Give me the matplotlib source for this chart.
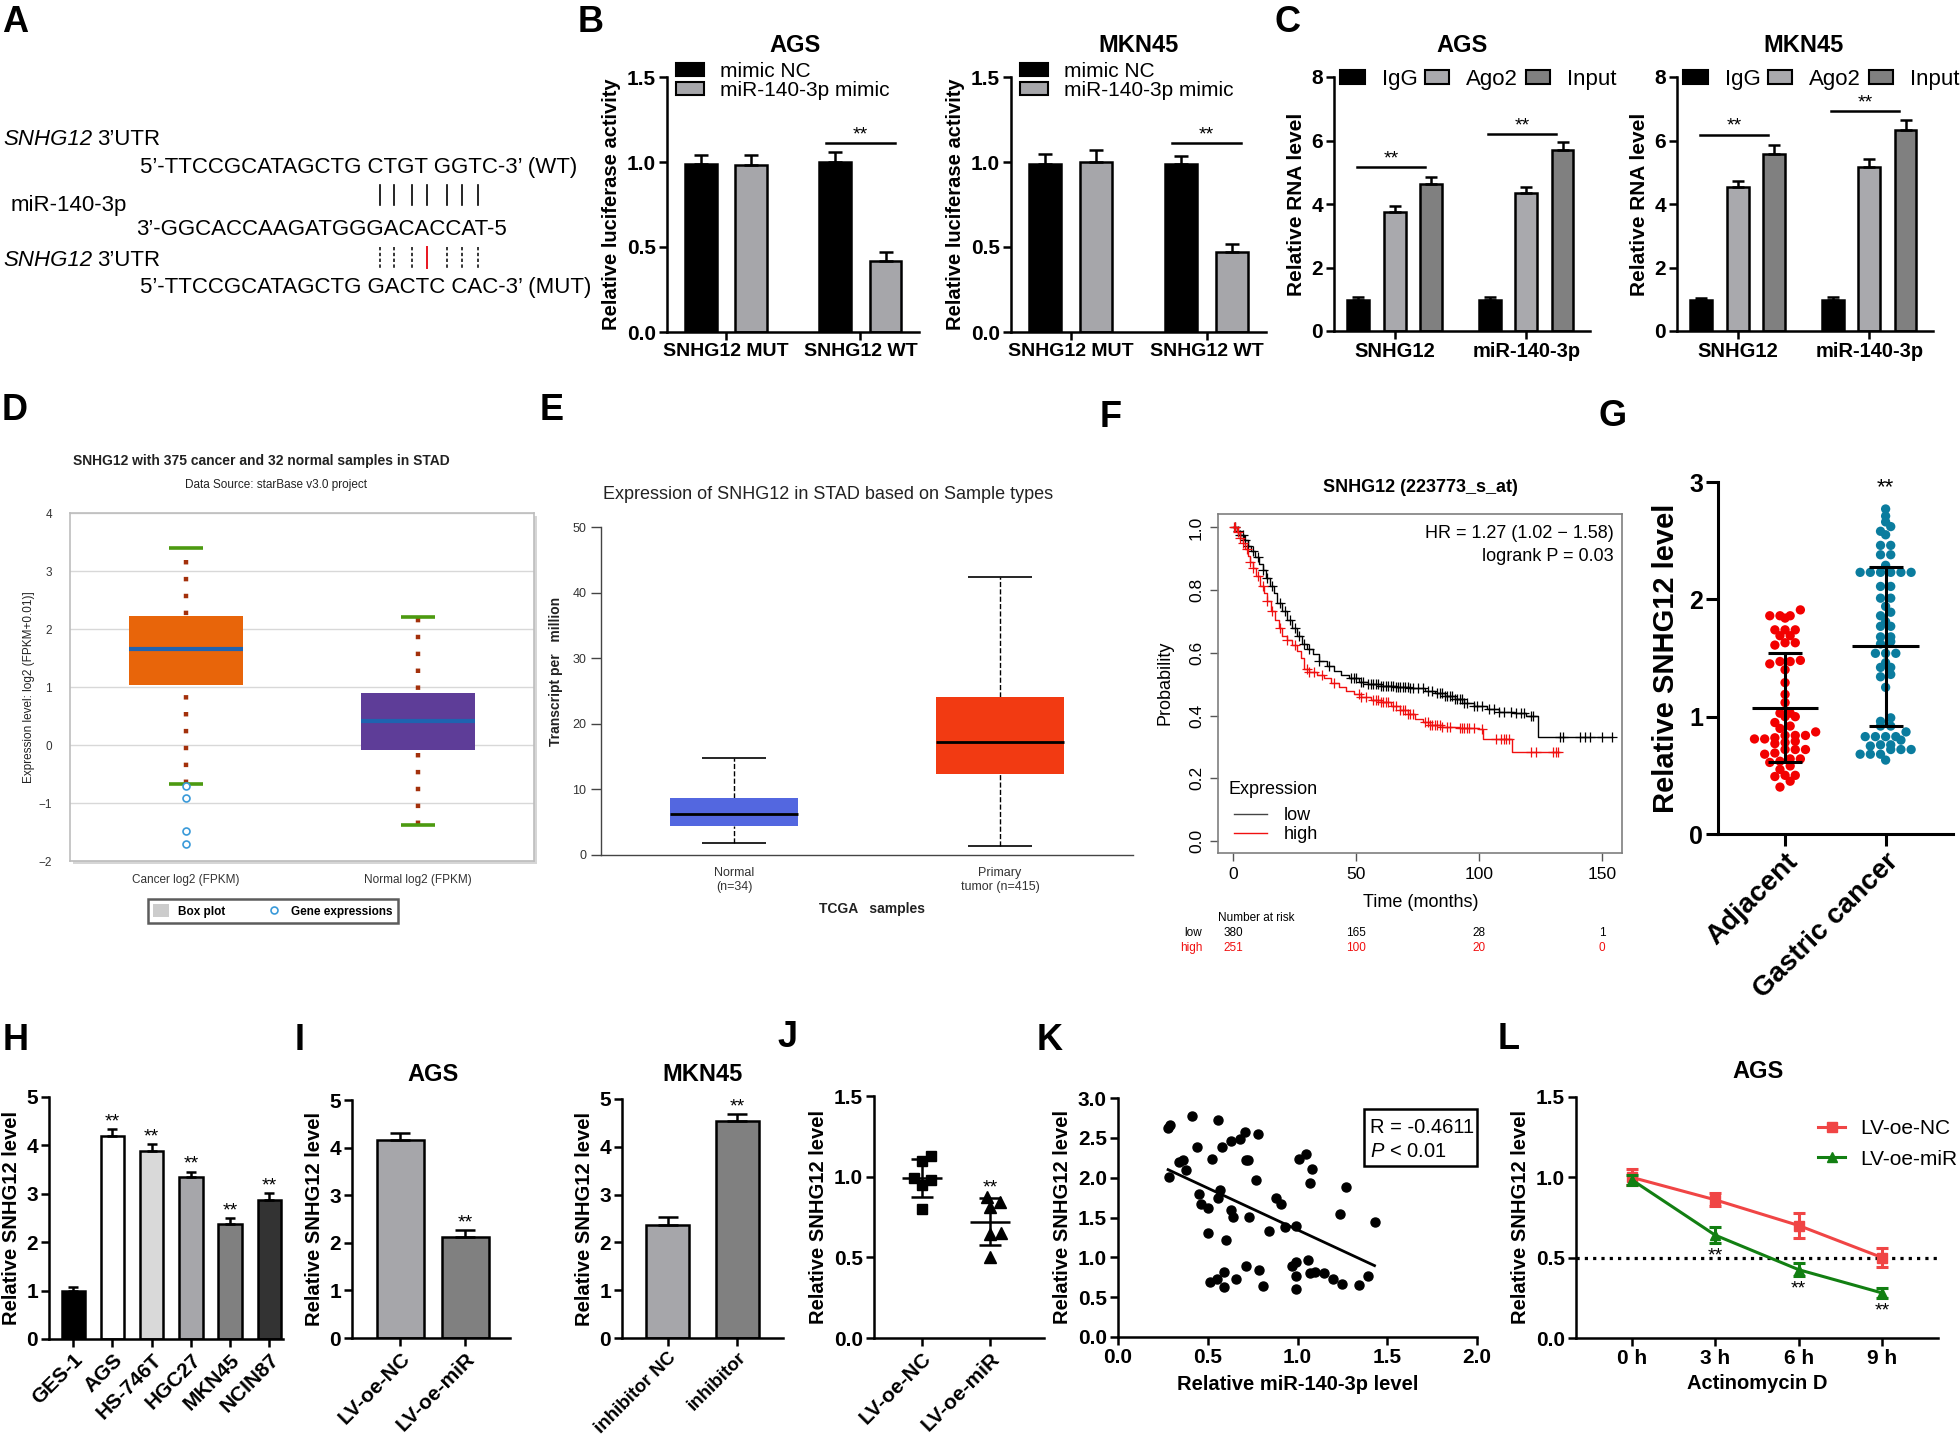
import numpy as np
import matplotlib
matplotlib.use("Agg")
import matplotlib.pyplot as plt
from matplotlib.lines import Line2D
from matplotlib.patches import Patch, Rectangle

W, H = 1960, 1438
plt.rcParams["font.family"] = ["Liberation Sans", "DejaVu Sans"]
plt.rcParams["mathtext.fontset"] = "custom"
plt.rcParams["mathtext.rm"] = "Liberation Sans"
plt.rcParams["mathtext.it"] = "Liberation Sans:italic"
plt.rcParams["axes.linewidth"] = 1.8

# ── Data ──────────────────────────────────────────────────────
# A: binding sites
seq_wt = "5’-TTCCGCATAGCTG CTGT GGTC-3’ (WT)"
seq_mir = "3’-GGCACCAAGATGGGACACCAT-5"
seq_mut = "5’-TTCCGCATAGCTG GACTC CAC-3’ (MUT)"

# B: luciferase
luc_groups = ["SNHG12 MUT", "SNHG12 WT"]
luc_series = ["mimic NC", "miR-140-3p mimic"]
luc_ags_nc = [0.99, 1.00]
luc_ags_nc_err = [0.05, 0.06]
luc_ags_mimic = [0.98, 0.42]
luc_ags_mimic_err = [0.06, 0.05]
luc_mkn_nc = [0.99, 0.99]
luc_mkn_nc_err = [0.055, 0.045]
luc_mkn_mimic = [1.00, 0.47]
luc_mkn_mimic_err = [0.07, 0.05]
luc_sig = 1.11

# C: RIP
rip_groups = ["SNHG12", "miR-140-3p"]
rip_series = ["IgG", "Ago2", "Input"]
rip_ags = [[0.98, 0.98], [3.76, 4.34], [4.63, 5.69]]
rip_ags_err = [[0.10, 0.10], [0.19, 0.21], [0.21, 0.25]]
rip_mkn = [[0.98, 0.98], [4.53, 5.18], [5.58, 6.34]]
rip_mkn_err = [[0.07, 0.10], [0.20, 0.25], [0.27, 0.29]]
rip_ags_sig = [5.15, 6.20]
rip_mkn_sig = [6.18, 6.92]

# D: starBase box plot
sb_groups = ["Cancer log2 (FPKM)", "Normal log2 (FPKM)"]
sb_q1 = [1.04, -0.09]
sb_med = [1.65, 0.41]
sb_q3 = [2.22, 0.90]
sb_lo = [-0.68, -1.38]
sb_hi = [3.40, 2.20]
sb_outliers = [-0.71, -0.92, -1.49, -1.71]

# E: GEPIA box plot
gp_groups = ["Normal\n(n=34)", "Primary\ntumor (n=415)"]
gp_q1 = [4.36, 12.4]
gp_med = [6.3, 17.3]
gp_q3 = [8.7, 24.1]
gp_lo = [1.9, 1.4]
gp_hi = [14.8, 42.5]

# F: Kaplan-Meier
km_low_t = [0, 1.5, 3, 4.5, 6, 7.5, 9, 10.5, 12, 13.5, 15, 16.5, 18, 20, 22, 24, 26, 28, 30,
            32.5, 35, 38, 41, 44, 47, 51, 55, 60, 66, 72, 78, 82, 86, 90, 94, 98, 103, 108,
            114, 119, 124]
km_low_s = [1.0, 0.99, 0.975, 0.96, 0.94, 0.925, 0.905, 0.885, 0.865, 0.84, 0.815, 0.79, 0.76,
            0.735, 0.705, 0.68, 0.655, 0.63, 0.612, 0.595, 0.575, 0.558, 0.543, 0.53, 0.521,
            0.508, 0.50, 0.495, 0.49, 0.487, 0.478, 0.472, 0.462, 0.452, 0.44, 0.43, 0.422,
            0.413, 0.407, 0.398, 0.331]
km_low_end = 154
km_high_t = [0, 1.5, 3, 4, 5, 6, 7, 8, 9.5, 11, 12.5, 14, 15.5, 17, 18.5, 20, 22, 24, 26, 27.5,
             29, 31, 34, 37, 40, 43, 46, 49, 52, 56, 60, 64, 68, 71, 74, 77, 80, 85, 92, 100,
             101.5, 113.5]
km_high_s = [1.0, 0.985, 0.965, 0.95, 0.93, 0.91, 0.89, 0.87, 0.845, 0.815, 0.79, 0.765, 0.735,
             0.705, 0.68, 0.655, 0.64, 0.625, 0.605, 0.585, 0.548, 0.54, 0.53, 0.52, 0.505,
             0.492, 0.48, 0.468, 0.458, 0.45, 0.445, 0.432, 0.418, 0.405, 0.39, 0.38, 0.37,
             0.365, 0.36, 0.356, 0.324, 0.285]
km_high_end = 132.5
km_low_cens = [1, 2, 3, 4, 5, 6, 8, 10, 12, 14, 16, 19, 21, 23, 25, 27, 29, 31, 35, 39, 48, 49,
               50, 52, 53, 55, 56, 57, 58, 59, 60, 61, 62, 63, 64, 65, 66, 67, 68, 69, 70, 71,
               72, 73, 75, 77, 79, 81, 83, 84, 85, 86, 87, 88, 89, 90, 91, 92, 93, 94, 95, 98,
               99, 101, 104, 106, 108, 110, 113, 115, 117, 118, 121, 122, 133, 134, 141, 143,
               145, 150, 154]
km_high_cens = [0.5, 1, 2, 3, 4, 5.5, 7, 8, 10, 12, 14, 16, 19, 22, 25, 30, 31, 33, 36, 41, 51,
                52, 54, 57, 58, 59, 60, 61, 62, 63, 65, 66, 68, 69, 70, 71, 72, 73, 78, 79, 80,
                81, 82, 83, 84, 85, 87, 88, 92, 93, 94, 95, 96, 98, 101, 107, 109, 110, 111,
                112, 121, 123, 130, 131, 132]
risk_times = [0, 50, 100, 150]
risk_low = [380, 165, 28, 1]
risk_high = [251, 100, 20, 0]

# G: tissue scatter
tissue_groups = ["Adjacent", "Gastric cancer"]
adjacent = [1.91, 1.86, 1.86, 1.86, 1.84, 1.74, 1.74, 1.74, 1.69, 1.69, 1.63, 1.63, 1.61, 1.48,
            1.47, 1.47, 1.45, 1.40, 1.29, 1.19, 1.12, 1.03, 1.03, 1.00, 1.00, 0.95, 0.92, 0.90,
            0.87, 0.84, 0.84, 0.84, 0.82, 0.81, 0.81, 0.79, 0.78, 0.77, 0.72, 0.72, 0.72, 0.69,
            0.68, 0.64, 0.64, 0.62, 0.61, 0.58, 0.55, 0.50, 0.50, 0.49, 0.45, 0.40]
gastric = [2.77, 2.71, 2.66, 2.62, 2.58, 2.55, 2.46, 2.46, 2.38, 2.38, 2.29, 2.23, 2.23, 2.23,
           2.23, 2.23, 2.23, 2.11, 2.11, 2.01, 2.01, 1.94, 1.89, 1.86, 1.81, 1.77, 1.77, 1.68,
           1.68, 1.64, 1.62, 1.54, 1.54, 1.54, 1.46, 1.42, 1.42, 1.36, 1.34, 1.25, 0.99, 0.96,
           0.92, 0.92, 0.87, 0.83, 0.83, 0.83, 0.83, 0.80, 0.76, 0.76, 0.75, 0.72, 0.72, 0.72,
           0.68, 0.68, 0.68, 0.63]

# H: cell lines
cell_lines = ["GES-1", "AGS", "HS-746T", "HGC27", "MKN45", "NCIN87"]
cell_snhg12 = [0.99, 4.20, 3.88, 3.34, 2.37, 2.88]
cell_snhg12_err = [0.08, 0.14, 0.14, 0.12, 0.13, 0.13]
cell_colors = ["#000000", "#FFFFFF", "#D9D9D9", "#A6A6AA", "#808080", "#333333"]

# I: overexpression / inhibition
oe_groups = ["LV-oe-NC", "LV-oe-miR"]
oe_ags = [4.16, 2.13]
oe_ags_err = [0.15, 0.14]
inh_groups = ["inhibitor NC", "inhibitor"]
inh_mkn = [2.37, 4.53]
inh_mkn_err = [0.16, 0.16]

# J: in vivo
vivo_nc = [1.13, 1.10, 0.99, 0.98, 0.95, 0.80]
vivo_mir = [0.84, 0.815, 0.877, 0.65, 0.646, 0.50]

# K: correlation
mir_level = [0.279, 0.288, 0.283, 0.34, 0.363, 0.381, 0.413, 0.441, 0.45, 0.46, 0.499, 0.499,
             0.512, 0.526, 0.549, 0.558, 0.567, 0.558, 0.579, 0.59, 0.59, 0.60, 0.628, 0.638,
             0.628, 0.66, 0.679, 0.707, 0.713, 0.726, 0.711, 0.729, 0.77, 0.78, 0.787, 0.81,
             0.839, 0.88, 0.908, 0.93, 0.97, 0.99, 0.99, 0.99, 0.99, 1.01, 1.05, 1.06, 1.07,
             1.08, 1.07, 1.10, 1.15, 1.20, 1.237, 1.25, 1.269, 1.34, 1.39, 1.429]
snhg_level = [2.62, 2.66, 2.01, 2.20, 2.22, 2.09, 2.77, 2.39, 1.80, 1.67, 1.62, 1.31, 0.69, 2.23,
              0.73, 2.72, 1.85, 1.75, 2.38, 0.81, 0.63, 1.22, 1.59, 1.51, 2.46, 0.73, 2.48, 2.57,
              2.22, 2.22, 0.89, 1.51, 1.97, 2.55, 0.84, 0.64, 1.33, 1.75, 1.67, 1.38, 0.89, 0.94,
              1.39, 0.76, 0.60, 2.23, 2.30, 0.97, 1.93, 2.11, 0.80, 0.81, 0.80, 0.73, 1.54, 0.67,
              1.88, 0.65, 0.76, 1.44]

# L: actinomycin D
act_hours = [0, 3, 6, 9]
act_labels = ["0 h", "3 h", "6 h", "9 h"]
act_nc = [1.0, 0.86, 0.70, 0.50]
act_nc_err = [0.05, 0.04, 0.075, 0.06]
act_mir = [0.985, 0.64, 0.425, 0.28]
act_mir_err = [0.03, 0.05, 0.04, 0.03]

GRAY = "#A6A6AA"
DARK = "#808080"

fig = plt.figure(figsize=(W / 100, H / 100), dpi=100)


def add_ax(x0, y0, x1, y1):
    return fig.add_axes([x0 / W, 1 - y1 / H, (x1 - x0) / W, (y1 - y0) / H])


def ftext(x, y, s, **kw):
    kw.setdefault("va", "baseline")
    return fig.text(x / W, 1 - y / H, s, **kw)


def fline(xs, ys, **kw):
    fig.add_artist(Line2D([x / W for x in xs], [1 - y / H for y in ys],
                          transform=fig.transFigure, **kw))


def prism(ax, ylim, yticks, ylabel, xlim, fmt="{:g}", lsize=14.5, tsize=15, lpad=4, tlen=6):
    ax.spines[["top", "right"]].set_visible(False)
    ax.spines[["left", "bottom"]].set_linewidth(1.8)
    ax.tick_params(direction="out", length=tlen, width=1.8, labelsize=tsize, pad=2)
    ax.set_xlim(*xlim)
    ax.set_ylim(*ylim)
    ax.set_yticks(yticks)
    ax.set_yticklabels([fmt.format(v) for v in yticks], fontweight="bold")
    ax.set_ylabel(ylabel, fontsize=lsize, fontweight="bold", labelpad=lpad)


def stars(ax, x, y, dy=-1, va="bottom", size=14):
    ax.annotate("**", (x, y), xytext=(0, dy), textcoords="offset points",
                ha="center", va=va, fontsize=size)


def up_err(ax, x, y, e, cap):
    ax.errorbar(x, y, yerr=[np.zeros(len(y)), e], fmt="none", ecolor="black",
                elinewidth=1.8, capsize=cap, capthick=1.8, zorder=3)


def px_per_unit(ax):
    return ax.transData.transform((1, 0))[0] - ax.transData.transform((0, 0))[0]


def swarm(ax, xc, vals, d):
    pix = ax.transData.transform(np.column_stack([np.full(len(vals), xc), vals]))
    ys = pix[:, 1]
    placed, offs = [], np.zeros(len(vals))
    for i in np.argsort(ys):
        y = ys[i]
        cands = [0.0]
        for px, py in placed:
            dy = y - py
            if abs(dy) < d:
                dx = np.sqrt(d * d - dy * dy)
                cands += [px + dx, px - dx]
        for c in sorted(cands, key=abs):
            if all((c - px) ** 2 + (y - py) ** 2 >= d * d - 1e-6 for px, py in placed):
                offs[i] = c
                placed.append((c, y))
                break
    return xc + offs / px_per_unit(ax)


def rows(ax, xc, vals, d, bin_w):
    # GraphPad style: points in the same y bin share one row
    vals = np.asarray(vals)
    bins = np.round(vals / bin_w).astype(int)
    offs = np.zeros(len(vals))
    for b in np.unique(bins):
        idx = np.where(bins == b)[0]
        idx = idx[np.argsort(vals[idx])]
        n = len(idx)
        for slot, j in zip(np.arange(n) - (n - 1) / 2, range(n)):
            offs[idx[j]] = slot * d
    return xc + offs / px_per_unit(ax)


# ── Panel letters ─────────────────────────────────────────────
for lab, x, y in [("A", 2, 32), ("B", 578, 32), ("C", 1274, 32), ("D", 2, 420), ("E", 540, 420),
                  ("F", 1100, 427), ("G", 1598, 426), ("H", 3, 1050), ("I", 295, 1050),
                  ("J", 777, 1047), ("K", 1037, 1050), ("L", 1498, 1049)]:
    ftext(x, y, lab, fontsize=26, fontweight="bold")

# ── A ─────────────────────────────────────────────────────────
for yb in (145, 266):
    ftext(3, yb, "SNHG12", fontsize=16, style="italic")
    ftext(97, yb, "3’UTR", fontsize=16)
ftext(140, 173, seq_wt, fontsize=16)
ftext(11, 211, "miR-140-3p", fontsize=16)
ftext(136, 235, seq_mir, fontsize=16)
ftext(140, 293, seq_mut, fontsize=16)
pair_x = [380, 394, 412, 427, 447, 462, 478]
for i, x in enumerate(pair_x):
    fline([x, x], [185, 205], color="black", lw=1.2)
    if i == 3:
        fline([x, x], [247, 268], color="#E8141E", lw=1.4)
    else:
        fline([x, x], [247, 268], color="black", lw=1.1, ls=(0, (2.2, 1.6)))


# ── B ─────────────────────────────────────────────────────────
def luc_panel(box, nc, nc_err, mim, mim_err, title, tx):
    ax = add_ax(*box)
    prism(ax, (0, 1.5), [0, 0.5, 1.0, 1.5], "Relative luciferase activity",
          (-0.44, 1.436), fmt="{:.1f}")
    x = np.arange(len(luc_groups))
    off, w = 0.187, 0.236
    ax.bar(x - off, nc, w, color="black", edgecolor="black", lw=1.8, zorder=2)
    ax.bar(x + off, mim, w, color=GRAY, edgecolor="black", lw=1.8, zorder=2)
    up_err(ax, x - off, nc, nc_err, 5)
    up_err(ax, x + off, mim, mim_err, 5)
    ax.plot([x[1] - 0.255, x[1] + 0.255], [luc_sig, luc_sig], color="black", lw=1.8)
    stars(ax, x[1], luc_sig, dy=0)
    ax.set_xticks(x)
    ax.set_xticklabels(luc_groups, fontweight="bold", fontsize=14)
    ax.legend([Patch(fc="black", ec="black", lw=1.5), Patch(fc=GRAY, ec="black", lw=1.5)],
              luc_series, loc="center left", bbox_to_anchor=(0.036, 0.985), frameon=False,
              fontsize=15, handlelength=1.35, handleheight=0.6, handletextpad=0.75,
              labelspacing=0.02, borderpad=0, borderaxespad=0)
    ftext(tx, 52, title, ha="center", fontsize=17, fontweight="bold")


luc_panel((667, 77, 919, 332), luc_ags_nc, luc_ags_nc_err, luc_ags_mimic, luc_ags_mimic_err,
          "AGS", 795)
luc_panel((1011, 77, 1266, 332), luc_mkn_nc, luc_mkn_nc_err, luc_mkn_mimic, luc_mkn_mimic_err,
          "MKN45", 1138)


# ── C ─────────────────────────────────────────────────────────
def rip_panel(box, vals, errs, sig, title, tx):
    ax = add_ax(*box)
    prism(ax, (0, 8), [0, 2, 4, 6, 8], "Relative RNA level", (-0.462, 1.485), lsize=15)
    x = np.arange(len(rip_groups))
    colors = ["black", "#A9A9AD", DARK]
    handles = []
    for k, (v, e, c) in enumerate(zip(vals, errs, colors)):
        xx = x + (k - 1) * 0.277
        ax.bar(xx, v, 0.165, color=c, edgecolor="black", lw=1.8, zorder=2)
        up_err(ax, xx, v, e, 4)
        handles.append(Patch(fc=c, ec="black", lw=1.5))
    for g in range(len(x)):
        ax.plot([x[g] - 0.29, x[g] + 0.23], [sig[g], sig[g]], color="black", lw=1.8)
        stars(ax, x[g] - 0.03, sig[g], dy=0)
    ax.set_xticks(x)
    ax.set_xticklabels(rip_groups, fontweight="bold", fontsize=14.5)
    ax.legend(handles, rip_series, ncol=3, loc="center left", bbox_to_anchor=(0.025, 0.99),
              frameon=False, fontsize=16, handlelength=1.1, handleheight=0.55,
              handletextpad=0.75, columnspacing=0.35, borderpad=0, borderaxespad=0)
    ftext(tx, 52, title, ha="center", fontsize=17, fontweight="bold")


rip_panel((1334, 77, 1590, 331), rip_ags, rip_ags_err, rip_ags_sig, "AGS", 1462)
rip_panel((1677, 77, 1933, 331), rip_mkn, rip_mkn_err, rip_mkn_sig, "MKN45", 1803)

# ── D ─────────────────────────────────────────────────────────
fig.add_artist(Rectangle((73 / W, 1 - 864 / H), 464 / W, 348 / H, transform=fig.transFigure,
                         fc="#D6D6D6", ec="none", zorder=-1))
ax = add_ax(70, 513, 534, 861)
ax.set_xlim(-0.5, 1.5)
ax.set_ylim(-2, 4)
for s in ax.spines.values():
    s.set_color("#BDBDBD")
    s.set_linewidth(1.2)
ax.set_yticks(range(-2, 5))
ax.grid(axis="y", color="#D8D8D8", lw=1)
ax.set_axisbelow(True)
ax.tick_params(length=0, labelsize=8.5, colors="#333333")
ax.tick_params(axis="y", pad=13)
ax.tick_params(axis="x", pad=9)
xd = np.arange(len(sb_groups))
ax.set_xticks(xd)
ax.set_xticklabels(sb_groups)
ax.vlines(xd, sb_lo, sb_hi, colors="#A3300B", lw=3.2, linestyles=[(0, (1, 2.8))], zorder=2)
ax.bar(xd, np.subtract(sb_q3, sb_q1), bottom=sb_q1, width=0.49, color=["#E8650A", "#5E3D98"],
       zorder=3)
ax.hlines(sb_med, xd - 0.245, xd + 0.245, color="#1F63B0", lw=3, zorder=4)
ax.hlines(sb_lo + sb_hi, np.tile(xd, 2) - 0.073, np.tile(xd, 2) + 0.073, color="#4C9A10", lw=2.6,
          zorder=4)
ax.plot(np.zeros(len(sb_outliers)), sb_outliers, "o", mfc="white", mec="#3A9AD9", ms=5, mew=1.2,
        zorder=5)
ftext(261, 465, "SNHG12 with 375 cancer and 32 normal samples in STAD", ha="center",
      fontsize=10, fontweight="bold", color="#222222")
ftext(276, 488, "Data Source: starBase v3.0 project", ha="center", fontsize=8.5, color="#222222")
ftext(29, 687, "Expression level: log2 (FPKM+0.01)]", rotation=90, ha="center", va="center",
      fontsize=8.5, color="#222222")
leg = fig.legend([Patch(fc="#CCCCCC"), Line2D([], [], marker="o", ls="none", mfc="white",
                                               mec="#3A9AD9", ms=5, mew=1.2)],
                 ["Box plot", "Gene expressions"], ncol=2, loc="center",
                 bbox_to_anchor=(273 / W, 1 - 911 / H), fancybox=False, edgecolor="#333333",
                 prop={"size": 8.5, "weight": "bold"}, handlelength=1.3, handleheight=1.3,
                 columnspacing=3.5, borderpad=0.45)
leg.get_frame().set_linewidth(1.8)

# ── E ─────────────────────────────────────────────────────────
ax = add_ax(601, 527.5, 1133, 855)
ax.set_xlim(-0.5, 1.5)
ax.set_ylim(0, 50)
ax.spines[["top", "right"]].set_visible(False)
ax.spines[["left", "bottom"]].set_color("#444444")
ax.spines[["left", "bottom"]].set_linewidth(1)
ax.set_yticks(range(0, 51, 10))
ax.tick_params(axis="y", length=7, width=1, color="#444444", labelsize=9, labelcolor="#333333")
ax.tick_params(axis="x", length=0, labelsize=9, labelcolor="#333333", pad=9)
xe = np.arange(len(gp_groups))
ax.set_xticks(xe)
ax.set_xticklabels(gp_groups, linespacing=1.2)
ax.vlines(xe, gp_lo, gp_q1, colors="black", lw=1, linestyles="dashed", zorder=1)
ax.vlines(xe, gp_q3, gp_hi, colors="black", lw=1, linestyles="dashed", zorder=1)
ax.hlines(gp_lo + gp_hi, np.tile(xe, 2) - 0.122, np.tile(xe, 2) + 0.122, color="black", lw=1.2)
ax.bar(xe, np.subtract(gp_q3, gp_q1), bottom=gp_q1, width=0.483, color=["#5367E0", "#F23A12"],
       zorder=2)
ax.hlines(gp_med, xe - 0.2415, xe + 0.2415, color="black", lw=2, zorder=3)
ftext(828, 499, "Expression of SNHG12 in STAD based on Sample types", ha="center", fontsize=13,
      color="#222222")
ftext(556, 671, "Transcript per   million", rotation=90, ha="center", va="center", fontsize=10,
      fontweight="bold", color="#222222")
ftext(872, 913, "TCGA   samples", ha="center", fontsize=10, fontweight="bold", color="#222222")

# ── F ─────────────────────────────────────────────────────────
ax = add_ax(1218, 514, 1622, 853)
ax.set_xlim(-6.1, 158)
ax.set_ylim(-0.038, 1.043)
for s in ax.spines.values():
    s.set_color("#7F7F7F")
    s.set_linewidth(1.2)
for ts, ss, end, cens, col in [(km_low_t, km_low_s, km_low_end, km_low_cens, "black"),
                               (km_high_t, km_high_s, km_high_end, km_high_cens, "#F01010")]:
    ts_a = np.array(ts + [end])
    ss_a = np.array(ss + [ss[-1]])
    ax.step(ts_a, ss_a, where="post", color=col, lw=1)
    idx = np.searchsorted(ts_a, cens, side="right") - 1
    ax.plot(cens, ss_a[idx], "+", color=col, ms=7, mew=0.9)
ax.set_xticks(risk_times)
ax.set_yticks([0, 0.2, 0.4, 0.6, 0.8, 1.0])
ax.set_yticklabels(["0.0", "0.2", "0.4", "0.6", "0.8", "1.0"], rotation=90, va="center")
ax.tick_params(length=6, width=1, color="#555555", labelsize=12.5, pad=4)
ftext(1420, 492, "SNHG12 (223773_s_at)", ha="center", fontsize=13, fontweight="bold")
ftext(1614, 538, "HR = 1.27 (1.02 − 1.58)", ha="right", fontsize=13)
ftext(1614, 561, "logrank P = 0.03", ha="right", fontsize=13)
ftext(1228, 794, "Expression", fontsize=13)
fline([1234, 1267], [814, 814], color="#444444", lw=1)
fline([1234, 1267], [833, 833], color="#F01010", lw=1)
ftext(1284, 820, "low", fontsize=13)
ftext(1284, 839, "high", fontsize=13)
ftext(1165, 683, "Probability", rotation=90, ha="center", va="center", fontsize=13)
ftext(1421, 907, "Time (months)", ha="center", fontsize=13)
ftext(1218, 921, "Number at risk", fontsize=8.5)
ftext(1202, 936, "low", ha="right", fontsize=8.5)
ftext(1202, 951, "high", ha="right", fontsize=8.5, color="#F01010")
for t, nl, nh in zip(risk_times, risk_low, risk_high):
    xp = ax.transData.transform((t, 0))[0]
    ftext(xp, 936, str(nl), ha="center", fontsize=8.5)
    ftext(xp, 951, str(nh), ha="center", fontsize=8.5, color="#F01010")

# ── G ─────────────────────────────────────────────────────────
ax = add_ax(1718, 482, 1953, 834)
prism(ax, (0, 3), [0, 1, 2, 3], "Relative SNHG12 level", (-0.667, 1.67), lsize=21, tsize=18,
      lpad=7, tlen=8.6)
ax.spines[["left", "bottom"]].set_linewidth(2.2)
ax.tick_params(width=2.2)
for k, (vals, col) in enumerate([(adjacent, "#F20000"), (gastric, "#0A7C9E")]):
    xs = rows(ax, k, vals, 10.2, 0.07)
    ax.scatter(xs, vals, s=45, color=col, edgecolors="none", zorder=2)
    m, sd = np.mean(vals), np.std(vals, ddof=1)
    ax.hlines(m, k - 0.33, k + 0.33, color="black", lw=2.2, zorder=3)
    ax.hlines([m - sd, m + sd], k - 0.17, k + 0.17, color="black", lw=2.2, zorder=3)
    ax.vlines(k, m - sd, m + sd, color="black", lw=2.2, zorder=3)
stars(ax, 1, 2.86, dy=0, size=16)
ax.set_xticks([0, 1])
ax.set_xticklabels(tissue_groups, rotation=45, ha="right", rotation_mode="anchor",
                   fontweight="bold", fontsize=20)

# ── H ─────────────────────────────────────────────────────────
ax = add_ax(49, 1097, 283, 1339)
prism(ax, (0, 5), range(6), "Relative SNHG12 level", (-0.62, 5.35))
xh = np.arange(len(cell_lines))
ax.bar(xh, cell_snhg12, 0.6, color=cell_colors, edgecolor="black", lw=1.8, zorder=2)
up_err(ax, xh, cell_snhg12, cell_snhg12_err, 3.5)
for i in xh[1:]:
    stars(ax, i, cell_snhg12[i] + cell_snhg12_err[i])
ax.set_xticks(xh)
ax.set_xticklabels(cell_lines, rotation=45, ha="right", rotation_mode="anchor",
                   fontweight="bold", fontsize=15)


# ── I ─────────────────────────────────────────────────────────
def small_bars(box, vals, errs, labels, xlim, width, title, tx, sig_idx, lab_size):
    ax = add_ax(*box)
    prism(ax, (0, 5), range(6), "Relative SNHG12 level", xlim)
    xi = np.arange(len(vals))
    ax.bar(xi, vals, width, color=[GRAY, DARK], edgecolor="black", lw=1.8, zorder=2)
    up_err(ax, xi, vals, errs, 7)
    stars(ax, sig_idx, vals[sig_idx] + errs[sig_idx])
    ax.set_xticks(xi)
    ax.set_xticklabels(labels, rotation=45, ha="right", rotation_mode="anchor",
                       fontweight="bold", fontsize=lab_size)
    ftext(tx, 1081, title, ha="center", fontsize=17, fontweight="bold")


small_bars((352, 1100, 510, 1338), oe_ags, oe_ags_err, oe_groups, (-0.74, 1.69), 0.72,
           "AGS", 433, 1, 15)
small_bars((622, 1099, 783, 1338), inh_mkn, inh_mkn_err, inh_groups, (-0.66, 1.66), 0.62,
           "MKN45", 702, 1, 13.5)

# ── J ─────────────────────────────────────────────────────────
ax = add_ax(874, 1096, 1044, 1338)
prism(ax, (0, 1.5), [0, 0.5, 1.0, 1.5], "Relative SNHG12 level", (-0.7, 1.79), fmt="{:.1f}")
for k, (vals, mk, ms) in enumerate([(vivo_nc, "s", 7), (vivo_mir, "^", 8)]):
    xs = swarm(ax, k, vals, 10.5)
    ax.plot(xs, vals, mk, color="black", ms=ms, ls="none", zorder=2)
    m, sd = np.mean(vals), np.std(vals, ddof=1)
    ax.hlines(m, k - 0.29, k + 0.29, color="black", lw=1.8, zorder=3)
    ax.hlines([m - sd, m + sd], k - 0.16, k + 0.16, color="black", lw=1.8, zorder=3)
    ax.vlines(k, m - sd, m + sd, color="black", lw=1.8, zorder=3)
    if k == 1:
        stars(ax, k, m + sd, dy=1)
ax.set_xticks([0, 1])
ax.set_xticklabels(oe_groups, rotation=45, ha="right", rotation_mode="anchor",
                   fontweight="bold", fontsize=15)

# ── K ─────────────────────────────────────────────────────────
ax = add_ax(1118, 1098, 1477, 1337)
prism(ax, (0, 3), np.arange(0, 3.01, 0.5), "Relative SNHG12 level", (0, 2), fmt="{:.1f}")
ax.set_xticks(np.arange(0, 2.01, 0.5))
ax.set_xticklabels([f"{v:.1f}" for v in np.arange(0, 2.01, 0.5)], fontweight="bold")
ax.set_xlabel("Relative miR-140-3p level", fontsize=14.5, fontweight="bold", labelpad=6)
ax.plot(mir_level, snhg_level, "o", color="black", ms=6.5, ls="none", zorder=2)
slope, icpt = np.polyfit(mir_level, snhg_level, 1)
xf = np.array([min(mir_level), max(mir_level)])
ax.plot(xf, slope * xf + icpt, color="black", lw=2, zorder=3)
ax.add_patch(Rectangle((0.685, 0.715), 0.315, 0.239, transform=ax.transAxes, fill=False,
                       ec="black", lw=1.8, clip_on=False))
ax.text(0.702, 0.854, "R = -0.4611", transform=ax.transAxes, fontsize=14.5, va="baseline")
ax.text(0.702, 0.753, "$P$ < 0.01", transform=ax.transAxes, fontsize=14.5, va="baseline")

# ── L ─────────────────────────────────────────────────────────
ax = add_ax(1576, 1097, 1938, 1338)
prism(ax, (0, 1.5), [0, 0.5, 1.0, 1.5], "Relative SNHG12 level", (-2, 11), fmt="{:.1f}")
ax.axhline(0.5, color="black", lw=2.3, ls=(0, (1, 1.6)), zorder=1)
ax.errorbar(act_hours, act_nc, yerr=act_nc_err, color="#F04545", marker="s", ms=7, lw=2.2,
            elinewidth=2.2, capsize=4, capthick=2.2, zorder=3, label="LV-oe-NC")
ax.errorbar(act_hours, act_mir, yerr=act_mir_err, color="#127F12", marker="^", ms=7.5, lw=2.2,
            elinewidth=2.2, capsize=4, capthick=2.2, zorder=4, label="LV-oe-miR")
for t, v, e in zip(act_hours[1:], act_mir[1:], act_mir_err[1:]):
    stars(ax, t, v - e, dy=-3, va="top")
ax.set_xticks(act_hours)
ax.set_xticklabels(act_labels, fontweight="bold")
ax.set_xlabel("Actinomycin D", fontsize=14.5, fontweight="bold", labelpad=4)
ax.legend(handles=[Line2D([], [], color="#F04545", marker="s", ms=7, lw=2.2),
                   Line2D([], [], color="#127F12", marker="^", ms=7.5, lw=2.2)],
          labels=["LV-oe-NC", "LV-oe-miR"], loc="center left",
          bbox_to_anchor=(1818 / W, 1 - 1144 / H), bbox_transform=fig.transFigure,
          frameon=False, fontsize=15, handlelength=1.3, handletextpad=0.75,
          labelspacing=0.55, borderpad=0, borderaxespad=0)
ftext(1758, 1078, "AGS", ha="center", fontsize=17, fontweight="bold")

fig.savefig("out.png", dpi=100, facecolor="white")
